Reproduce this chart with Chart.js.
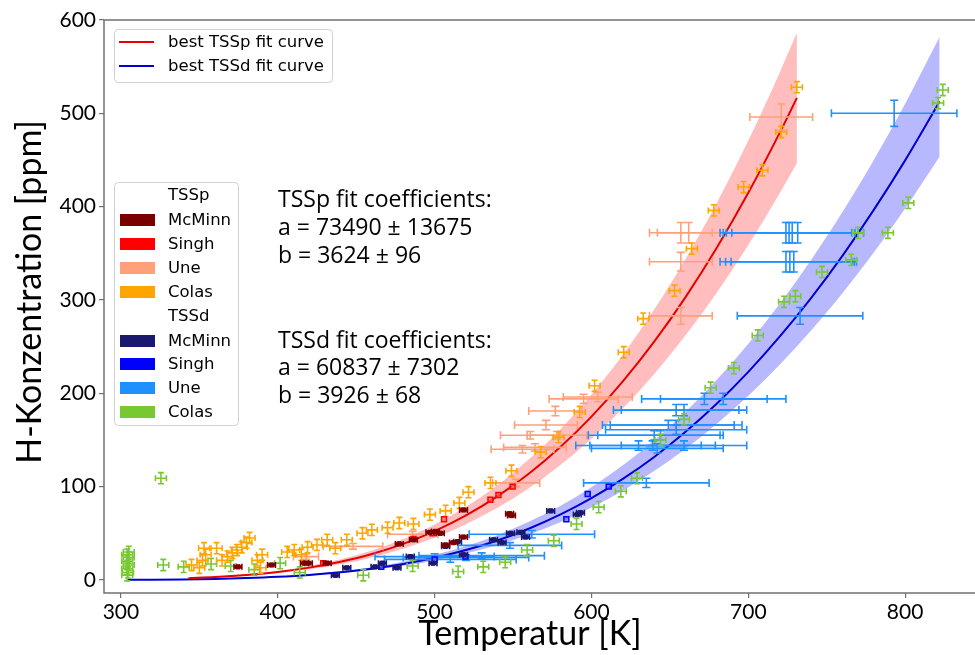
<!DOCTYPE html>
<html><head><meta charset="utf-8">
<script src="https://cdn.jsdelivr.net/npm/chart.js@4.4.1/dist/chart.umd.min.js"></script>
<style>html,body{margin:0;padding:0;background:#fff;overflow:hidden;width:975px;height:655px}canvas{display:block}</style>
</head><body>
<canvas id="c" width="982" height="655"></canvas>
<script>
// ---------- data ----------
const xTicks = [300, 400, 500, 600, 700, 800];
const yTicks = [0, 100, 200, 300, 400, 500, 600];

// best fit curves TSS = a*exp(-b/T) values read at these temperatures
const fitTsspT = [343,360,380,400,420,440,460,480,500,520,540,560,580,600,620,640,660,680,700,720,731];
const fitTsspC = [1.9,3.1,5.3,8.5,13.2,19.5,27.8,38.7,52.3,69.1,89.5,113.7,142.1,175.0,212.7,255.3,303.1,356.2,414.8,479.0,516.6];
const fitTsspHi = [2.2,3.5,6.0,9.7,14.9,22.1,31.6,43.9,59.4,78.4,101.5,129.0,161.3,198.7,241.4,289.8,344.0,404.3,470.8,543.6,586.3];
const fitTsspLo = [1.6,2.7,4.6,7.4,11.4,16.8,24.1,33.4,45.2,59.8,77.4,98.3,122.9,151.4,184.0,220.8,262.2,308.1,358.8,414.3,446.9];

const fitTssdT = [304,320,340,360,380,400,420,440,460,480,500,520,540,560,580,600,620,640,660,680,700,720,740,760,780,800,822];
const fitTssdC = [0.15,0.29,0.59,1.12,1.98,3.32,5.30,8.11,11.96,17.06,23.67,32.0,42.3,54.9,69.9,87.6,108.2,131.8,158.8,189.1,223.0,260.7,302.0,347.3,396.5,449.6,512.7];
const fitTssdHi = [0.17,0.32,0.67,1.27,2.25,3.77,6.02,9.21,13.57,19.36,26.86,36.3,48.0,62.3,79.3,99.4,122.8,149.6,180.2,214.7,253.1,295.9,342.8,394.2,450.0,510.3,582.0];
const fitTssdLo = [0.13,0.25,0.52,0.99,1.75,2.94,4.69,7.18,10.58,15.10,20.95,28.3,37.5,48.6,61.9,77.5,95.7,116.7,140.5,167.4,197.4,230.7,267.3,307.3,350.9,397.9,453.8];

// TSSp data
const mcminnPT = [374.6,396,417,419.5,431.5,477.5,486.5,497,500.5,503.6,507,512,518.4,518.4,547.8,549];
const mcminnPC = [14,16,18,18,18,38.6,43,51,52,50,37.5,40,46,75,71,69];
const singhPT = [429,486.5,498.6,506,535.6,540.7,549.7];
const singhPC = [18,44,50,65,86,91,100];
const unePT = [418,448,486,552,556,564,561,578,571,577,595,604,657,657,657,662,721];
const unePC = [25,36,49,104,140,142,155,155,166,181,194,196,283,341,372,372,496];
const unePErrT = [8,19,16,15,20,20,19,19,20,17,22,22,20,20,20,20,20];
const unePErrC = [3,3,3,4,4,4,4,4,5,5,5,5,9,10,11,11,14];
const colasPT = [345,350,352,353,354,361,364.5,368,371,374,377,380,382,387,389,390,406,410.5,415,419,425,431.5,436.7,444,454,460,470,477.5,486.5,497,507,515.8,521.6,535.6,549,567.6,579,592.5,602,620.6,633,653,664,678,697,709,721,731];
const colasPC = [16,13,21,34,27,34,21,25,29,32,35,40,45,21,13,27,30,32,27,35,37.5,43,34,43,50,53.6,56,61,60,70,74,82.5,94,104,117,137,153,180,208,244,280,310,355,396,421,439,480,528];

// TSSd data
const mcminnDT = [436.7,444,462,466.7,476,484.5,499,507,514.6,518.4,537.6,543,548.4,555,558,574,591,593];
const mcminnDC = [5,13,14,18,13,25,18,36,41,27,43,40,50,51,46,74,70,72];
const singhDT = [466,500,519.7,584,597.6,611];
const singhDC = [14,22,25,65,92,100];
const uneDT = [500,510,520,530,548,562,635,630,639,659,642,640,644,654,649,654,654,659,672,684,733,724,726.5,729,724,726,728,731.5,793];
const uneDC = [25,22,24,26,37,49,104,144,144,144,141,155,155,161,166,166,182,182,194,194,283,341,341,341,372,372,372,372,500];
const uneDErrT = [38,42,40,40,33,40,40,40,40,40,42,42,40,45,42,42,40,40,40,40,40,42,41,40,42,42,42,42,40];
const uneDErrC = [3,3,3,3,3,4,5,5,5,5,5,5,5,5,5,5,6,6,6,6,9,11,11,11,11,11,11,11,14];
const colasDT = [304,304.5,304,305,304,305,304,305,325.5,327,340,357.5,370,385,401.5,414,454.5,486,515,531,545,559,576,590.5,604.6,618.7,629,644,659,676,690.8,706,722.8,730,747,765.6,770,789,802,821,824];
const colasDC = [5,8,12,16,20,24,27,30,109,16,14,17,15,11,18,8,5,15,9,14,19,32,42,60,78,95,109,150,172,206,227,262,298,304,330,343,372,372,404,511,525];

const colasErrT = 3.5, colasErrC = 6;
const mcminnErrT = 2.5, mcminnErrC = 1;

// ---------- helpers ----------
const pts = (xs, ys) => xs.map((x, i) => ({x, y: ys[i]}));

const COL = {
  mcminnP: '#7a0000', singhP: '#ff0000', uneP: '#ffa07a', colasP: '#ffa500',
  mcminnD: '#191970', singhD: '#0000ff', uneD: '#1e90ff', colasD: '#78c832'
};

const datasets = [
  {label:'McMinn TSSp', data: pts(mcminnPT, mcminnPC), errX: mcminnErrT, errY: mcminnErrC, errColor: COL.mcminnP, cap: 3,
   pointStyle:'rect', pointRadius:3, backgroundColor: COL.mcminnP, borderColor: COL.mcminnP, borderWidth:1, order:1},
  {label:'McMinn TSSd', data: pts(mcminnDT, mcminnDC), errX: mcminnErrT, errY: mcminnErrC, errColor: COL.mcminnD, cap: 3,
   pointStyle:'rect', pointRadius:3, backgroundColor: COL.mcminnD, borderColor: COL.mcminnD, borderWidth:1, order:1},
  {label:'Singh TSSp', data: pts(singhPT, singhPC), pointStyle:'rect', pointRadius:3.5,
   backgroundColor:'rgba(255,90,90,0.7)', borderColor: COL.singhP, borderWidth:1.5, order:1},
  {label:'Singh TSSd', data: pts(singhDT, singhDC), pointStyle:'rect', pointRadius:3.5,
   backgroundColor:'rgba(90,90,255,0.7)', borderColor: COL.singhD, borderWidth:1.5, order:1},
  {label:'Colas TSSp', data: pts(colasPT, colasPC), errX: colasErrT, errY: colasErrC, errColor: COL.colasP, cap: 3, pointRadius:0, order:2},
  {label:'Colas TSSd', data: pts(colasDT, colasDC), errX: colasErrT, errY: colasErrC, errColor: COL.colasD, cap: 3, pointRadius:0, order:2},
  {label:'Une TSSd', data: pts(uneDT, uneDC), errX: uneDErrT, errY: uneDErrC, errColor: COL.uneD, cap: 4, pointRadius:0, order:3},
  {label:'Une TSSp', data: pts(unePT, unePC), errX: unePErrT, errY: unePErrC, errColor: COL.uneP, cap: 4, pointRadius:0, order:3},
  {type:'line', label:'best TSSp fit curve', data: pts(fitTsspT, fitTsspC), borderColor:'#e60000', borderWidth:2,
   pointRadius:0, fill:false, cubicInterpolationMode:'monotone', order:5},
  {type:'line', label:'best TSSd fit curve', data: pts(fitTssdT, fitTssdC), borderColor:'#0000d0', borderWidth:2,
   pointRadius:0, fill:false, cubicInterpolationMode:'monotone', order:5},
  {type:'line', label:'TSSp hi', data: pts(fitTsspT, fitTsspHi), borderWidth:0, borderColor:'rgba(0,0,0,0)', pointRadius:0, fill:false, cubicInterpolationMode:'monotone', order:10},
  {type:'line', label:'TSSp lo', data: pts(fitTsspT, fitTsspLo), borderWidth:0, borderColor:'rgba(0,0,0,0)', pointRadius:0,
   fill:'-1', backgroundColor:'rgba(255,0,0,0.26)', cubicInterpolationMode:'monotone', order:10},
  {type:'line', label:'TSSd hi', data: pts(fitTssdT, fitTssdHi), borderWidth:0, borderColor:'rgba(0,0,0,0)', pointRadius:0, fill:false, cubicInterpolationMode:'monotone', order:10},
  {type:'line', label:'TSSd lo', data: pts(fitTssdT, fitTssdLo), borderWidth:0, borderColor:'rgba(0,0,0,0)', pointRadius:0,
   fill:'-1', backgroundColor:'rgba(0,0,255,0.28)', cubicInterpolationMode:'monotone', order:10}
];

// ---------- plugins ----------
const errorBars = {
  id: 'errorBars',
  beforeDatasetDraw(chart, args) {
    const ds = chart.data.datasets[args.index];
    if (ds.errX === undefined && ds.errY === undefined) return;
    const xs = chart.scales.x, ys = chart.scales.y, ctx = chart.ctx, a = chart.chartArea;
    ctx.save();
    ctx.beginPath(); ctx.rect(a.left, a.top, a.right - a.left, a.bottom - a.top); ctx.clip();
    ctx.strokeStyle = ds.errColor; ctx.lineWidth = 1.6; ctx.lineCap = 'butt';
    const cap = ds.cap || 3;
    ds.data.forEach((p, i) => {
      const ex = Array.isArray(ds.errX) ? ds.errX[i] : ds.errX;
      const ey = Array.isArray(ds.errY) ? ds.errY[i] : ds.errY;
      const px = xs.getPixelForValue(p.x), py = ys.getPixelForValue(p.y);
      ctx.beginPath();
      if (ex) {
        const x1 = xs.getPixelForValue(p.x - ex), x2 = xs.getPixelForValue(p.x + ex);
        ctx.moveTo(x1, py); ctx.lineTo(x2, py);
        ctx.moveTo(x1, py - cap); ctx.lineTo(x1, py + cap);
        ctx.moveTo(x2, py - cap); ctx.lineTo(x2, py + cap);
      }
      if (ey) {
        const y1 = ys.getPixelForValue(p.y - ey), y2 = ys.getPixelForValue(p.y + ey);
        ctx.moveTo(px, y1); ctx.lineTo(px, y2);
        ctx.moveTo(px - cap, y1); ctx.lineTo(px + cap, y1);
        ctx.moveTo(px - cap, y2); ctx.lineTo(px + cap, y2);
      }
      ctx.stroke();
    });
    ctx.restore();
  }
};

function roundRect(ctx, x, y, w, h, r) {
  ctx.beginPath();
  ctx.moveTo(x + r, y); ctx.lineTo(x + w - r, y); ctx.quadraticCurveTo(x + w, y, x + w, y + r);
  ctx.lineTo(x + w, y + h - r); ctx.quadraticCurveTo(x + w, y + h, x + w - r, y + h);
  ctx.lineTo(x + r, y + h); ctx.quadraticCurveTo(x, y + h, x, y + h - r);
  ctx.lineTo(x, y + r); ctx.quadraticCurveTo(x, y, x + r, y); ctx.closePath();
}

const decor = {
  id: 'decor',
  afterDraw(chart) {
    const ctx = chart.ctx, a = chart.chartArea;
    ctx.save();
    ctx.strokeStyle = '#707070'; ctx.lineWidth = 1.5;
    ctx.beginPath();
    ctx.moveTo(a.left, a.top); ctx.lineTo(a.left, a.bottom); ctx.lineTo(a.right, a.bottom);
    ctx.moveTo(a.left, a.top); ctx.lineTo(a.right, a.top);
    ctx.stroke();

    roundRect(ctx, 114.5, 29.5, 218, 53, 4);
    ctx.fillStyle = 'rgba(255,255,255,0.85)'; ctx.fill();
    ctx.strokeStyle = '#d0d0d0'; ctx.lineWidth = 1; ctx.stroke();
    ctx.font = '16.5px "DejaVu Sans"'; ctx.textBaseline = 'middle'; ctx.fillStyle = '#000';
    const fitLeg = [['best TSSp fit curve', '#e60000', 42], ['best TSSd fit curve', '#0000d0', 66]];
    fitLeg.forEach(([t, c, y]) => {
      ctx.strokeStyle = c; ctx.lineWidth = 2;
      ctx.beginPath(); ctx.moveTo(119, y); ctx.lineTo(154, y); ctx.stroke();
      ctx.fillText(t, 168, y + 1);
    });

    roundRect(ctx, 114.5, 182.5, 124, 243, 4);
    ctx.fillStyle = 'rgba(255,255,255,0.85)'; ctx.fill();
    ctx.strokeStyle = '#d0d0d0'; ctx.lineWidth = 1; ctx.stroke();
    const rows = [
      ['TSSp', null, 195], ['McMinn', COL.mcminnP, 220], ['Singh', COL.singhP, 244], ['Une', COL.uneP, 268], ['Colas', COL.colasP, 292],
      ['TSSd', null, 316], ['McMinn', COL.mcminnD, 341], ['Singh', COL.singhD, 364], ['Une', COL.uneD, 388], ['Colas', COL.colasD, 412]
    ];
    rows.forEach(([t, c, y]) => {
      if (c) { ctx.fillStyle = c; ctx.fillRect(120, y - 6, 35, 12); }
      ctx.fillStyle = '#000'; ctx.fillText(t, 168, y + 1);
    });

    ctx.font = '23px "Open Sans"'; ctx.fillStyle = '#000'; ctx.textBaseline = 'middle';
    const ann = [['TSSp fit coefficients:', 200], ['a = 73490 \u00b1 13675', 228], ['b = 3624 \u00b1 96', 256],
                 ['TSSd fit coefficients:', 341], ['a = 60837 \u00b1 7302', 368], ['b = 3926 \u00b1 68', 396]];
    ann.forEach(([t, y]) => ctx.fillText(t, 278, y));

    ctx.font = '34px Lato'; ctx.textAlign = 'center';
    ctx.fillText('Temperatur [K]', 530, 634);
    ctx.save(); ctx.translate(30, 292); ctx.rotate(-Math.PI / 2);
    ctx.fillText('H-Konzentration [ppm]', 0, 0);
    ctx.restore();
    ctx.restore();
  }
};

new Chart(document.getElementById('c'), {
  type: 'scatter',
  data: { datasets },
  options: {
    responsive: false, animation: false, devicePixelRatio: 1,
    layout: { padding: { top: 20, right: 0, left: 0, bottom: 0 } },
    plugins: { legend: { display: false }, tooltip: { enabled: false } },
    scales: {
      x: {
        type: 'linear', min: 289.2, max: 845.5,
        afterFit(s) { s.height = 62; s.paddingLeft = 0; s.paddingRight = 0; },
        afterBuildTicks(s) { s.ticks = xTicks.map(v => ({value: v})); },
        ticks: { font: { family: 'Lato', size: 21 }, color: '#000', padding: 2 },
        grid: { drawOnChartArea: false, tickLength: 5, color: '#707070', lineWidth: 1.2 },
        border: { display: false }
      },
      y: {
        type: 'linear', min: -14, max: 600,
        afterFit(s) { s.width = 104; s.paddingTop = 0; s.paddingBottom = 0; },
        afterBuildTicks(s) { s.ticks = yTicks.map(v => ({value: v})); },
        ticks: { font: { family: 'Lato', size: 21 }, color: '#000', padding: 3 },
        grid: { drawOnChartArea: false, tickLength: 5, color: '#707070', lineWidth: 1.2 },
        border: { display: false }
      }
    }
  },
  plugins: [errorBars, decor]
});
</script>
</body></html>
